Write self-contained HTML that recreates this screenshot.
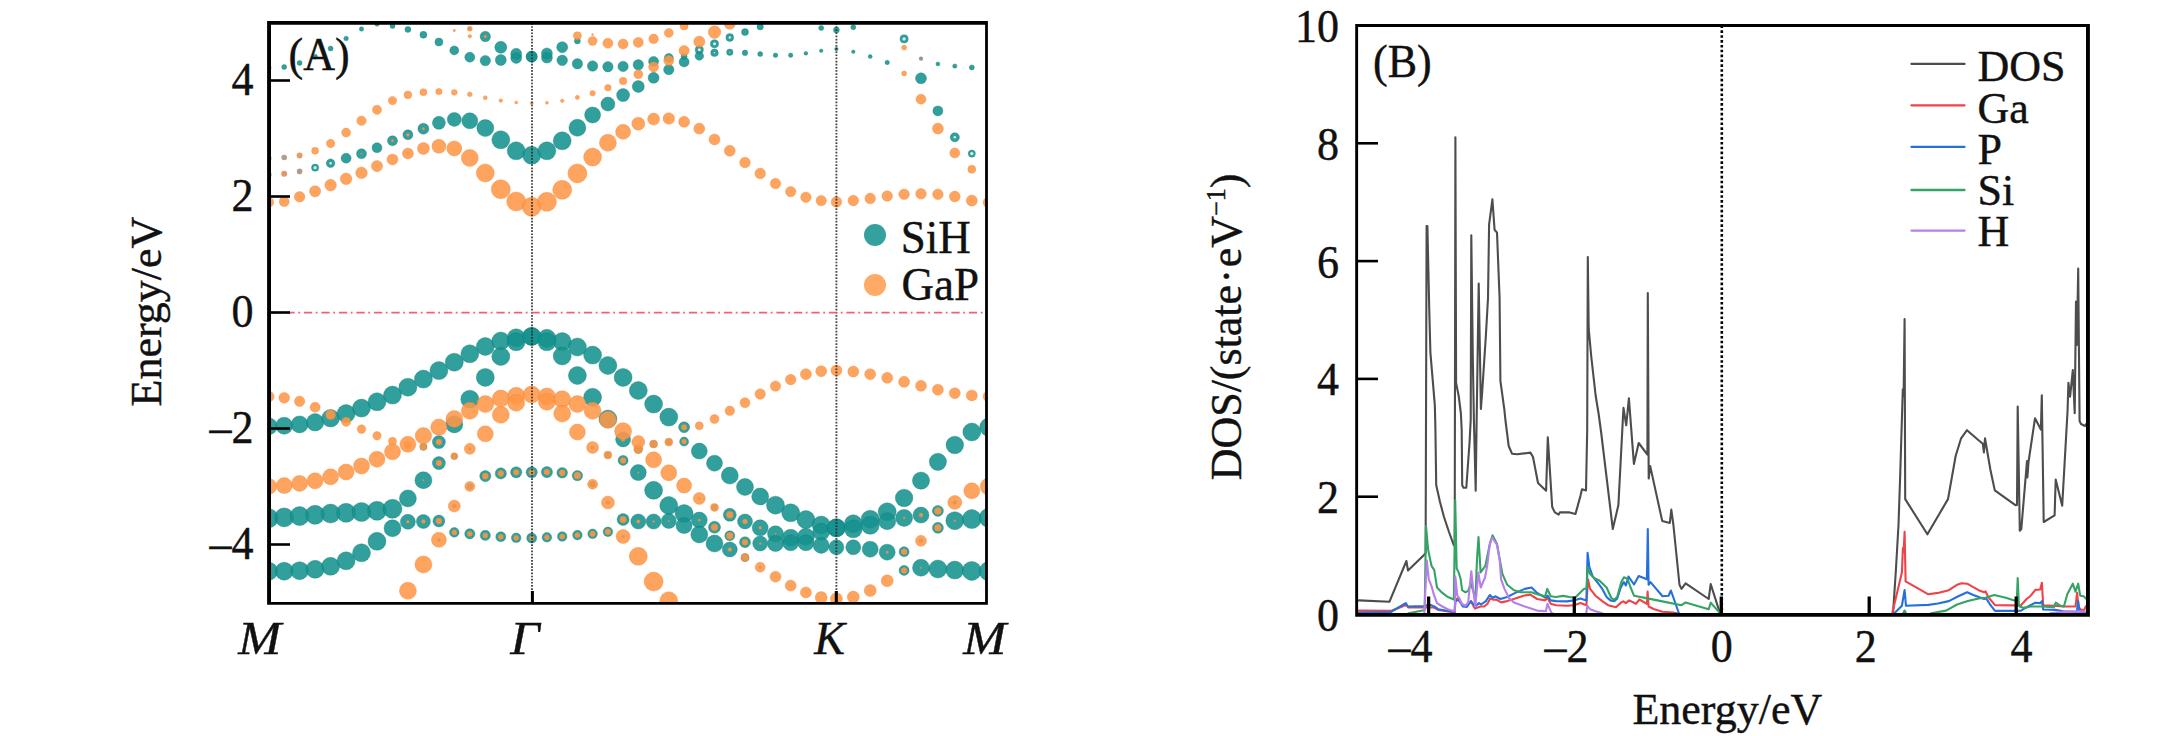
<!DOCTYPE html>
<html lang="en"><head><meta charset="utf-8"><title>Band structure and DOS</title>
<style>html,body{margin:0;padding:0;background:#fff}body{width:2182px;height:736px;overflow:hidden}svg{display:block}text{stroke:#111;stroke-width:.4px}</style></head>
<body>
<svg width="2182" height="736" viewBox="0 0 2182 736" font-family="'Liberation Serif', serif" fill="#111">
<rect x="0" y="0" width="2182" height="736" fill="#fff"/>
<defs><clipPath id="clipA"><rect x="269.0" y="23.0" width="718.0" height="580.0"/></clipPath>
<clipPath id="clipB"><rect x="1357" y="25.5" width="731" height="589"/></clipPath></defs>
<g clip-path="url(#clipA)">
<g fill="#15928e" fill-opacity="0.88" stroke="#0b7b78" stroke-opacity="0.4" stroke-width="0.9">
<circle cx="268.7" cy="426.3" r="8.5"/>
<circle cx="284.2" cy="425.8" r="8.5"/>
<circle cx="299.6" cy="424.4" r="8.5"/>
<circle cx="315.1" cy="422.3" r="8.7"/>
<circle cx="330.6" cy="418.2" r="8.8"/>
<circle cx="346.1" cy="413.6" r="9.0"/>
<circle cx="361.5" cy="408.1" r="9.0"/>
<circle cx="377.0" cy="401.8" r="9.0"/>
<circle cx="392.5" cy="395.1" r="9.0"/>
<circle cx="407.9" cy="387.2" r="9.0"/>
<circle cx="423.4" cy="379.1" r="9.0"/>
<circle cx="438.9" cy="370.6" r="9.0"/>
<circle cx="454.3" cy="362.2" r="9.0"/>
<circle cx="469.8" cy="353.8" r="9.0"/>
<circle cx="485.3" cy="346.5" r="9.0"/>
<circle cx="500.8" cy="341.0" r="9.0"/>
<circle cx="516.2" cy="337.8" r="9.0"/>
<circle cx="531.7" cy="336.4" r="9.0"/>
<circle cx="546.9" cy="338.3" r="9.0"/>
<circle cx="562.2" cy="341.6" r="9.0"/>
<circle cx="577.4" cy="347.0" r="9.0"/>
<circle cx="592.6" cy="355.1" r="9.0"/>
<circle cx="607.9" cy="365.5" r="9.0"/>
<circle cx="623.1" cy="377.4" r="9.0"/>
<circle cx="638.3" cy="390.5" r="9.0"/>
<circle cx="653.6" cy="404.1" r="9.0"/>
<circle cx="668.8" cy="417.1" r="9.0"/>
<circle cx="684.1" cy="427.2" r="5.5"/>
<circle cx="407.9" cy="444.8" r="1.5"/>
<circle cx="423.4" cy="446.8" r="3.5"/>
<circle cx="438.9" cy="442.1" r="6.5"/>
<circle cx="454.3" cy="424.4" r="8.5"/>
<circle cx="469.8" cy="399.2" r="9.0"/>
<circle cx="485.3" cy="377.4" r="9.0"/>
<circle cx="500.8" cy="356.5" r="9.0"/>
<circle cx="516.2" cy="341.8" r="9.0"/>
<circle cx="531.7" cy="336.4" r="9.0"/>
<circle cx="546.9" cy="341.8" r="9.0"/>
<circle cx="562.2" cy="356.0" r="9.0"/>
<circle cx="577.4" cy="375.5" r="9.0"/>
<circle cx="592.6" cy="397.3" r="9.0"/>
<circle cx="607.9" cy="419.0" r="9.0"/>
<circle cx="623.1" cy="439.4" r="7.5"/>
<circle cx="638.3" cy="449.2" r="4.0"/>
<circle cx="653.6" cy="444.0" r="3.5"/>
<circle cx="668.8" cy="442.1" r="3.0"/>
<circle cx="684.1" cy="441.6" r="4.5"/>
<circle cx="699.3" cy="451.1" r="8.0"/>
<circle cx="714.5" cy="463.2" r="8.0"/>
<circle cx="729.8" cy="475.6" r="8.5"/>
<circle cx="745.0" cy="487.0" r="8.5"/>
<circle cx="760.2" cy="496.5" r="8.5"/>
<circle cx="775.5" cy="505.2" r="9.0"/>
<circle cx="790.7" cy="512.8" r="9.0"/>
<circle cx="805.9" cy="519.6" r="9.0"/>
<circle cx="821.2" cy="525.0" r="9.0"/>
<circle cx="836.4" cy="527.8" r="9.0"/>
<circle cx="853.3" cy="523.8" r="9.0"/>
<circle cx="870.2" cy="519.2" r="9.0"/>
<circle cx="887.2" cy="511.8" r="9.0"/>
<circle cx="904.1" cy="498.0" r="8.8"/>
<circle cx="921.0" cy="480.6" r="8.6"/>
<circle cx="937.9" cy="461.8" r="8.6"/>
<circle cx="954.8" cy="445.0" r="8.8"/>
<circle cx="971.8" cy="432.0" r="9.0"/>
<circle cx="988.7" cy="427.1" r="9.0"/>
<circle cx="699.3" cy="498.4" r="1.0"/>
<circle cx="714.5" cy="507.4" r="3.0"/>
<circle cx="729.8" cy="514.8" r="6.5"/>
<circle cx="745.0" cy="521.5" r="7.5"/>
<circle cx="760.2" cy="527.8" r="8.0"/>
<circle cx="775.5" cy="533.8" r="8.0"/>
<circle cx="790.7" cy="537.8" r="8.5"/>
<circle cx="805.9" cy="536.8" r="8.5"/>
<circle cx="821.2" cy="531.8" r="8.5"/>
<circle cx="836.4" cy="527.8" r="9.0"/>
<circle cx="853.3" cy="528.8" r="9.0"/>
<circle cx="870.2" cy="525.3" r="9.0"/>
<circle cx="887.2" cy="521.2" r="8.5"/>
<circle cx="904.1" cy="517.9" r="8.5"/>
<circle cx="921.0" cy="515.1" r="8.0"/>
<circle cx="937.9" cy="510.9" r="5.5"/>
<circle cx="954.8" cy="502.4" r="2.0"/>
<circle cx="268.7" cy="518.2" r="9.5"/>
<circle cx="284.2" cy="517.4" r="9.5"/>
<circle cx="299.6" cy="516.1" r="9.5"/>
<circle cx="315.1" cy="514.8" r="9.5"/>
<circle cx="330.6" cy="513.6" r="9.5"/>
<circle cx="346.1" cy="512.8" r="9.5"/>
<circle cx="361.5" cy="512.0" r="9.5"/>
<circle cx="377.0" cy="510.8" r="9.5"/>
<circle cx="392.5" cy="508.8" r="9.5"/>
<circle cx="407.9" cy="498.4" r="8.5"/>
<circle cx="423.4" cy="480.2" r="8.5"/>
<circle cx="438.9" cy="463.1" r="6.5"/>
<circle cx="454.3" cy="456.2" r="3.0"/>
<circle cx="469.8" cy="448.8" r="1.5"/>
<circle cx="592.6" cy="447.5" r="1.5"/>
<circle cx="607.9" cy="455.1" r="3.0"/>
<circle cx="623.1" cy="460.4" r="5.0"/>
<circle cx="638.3" cy="472.6" r="8.0"/>
<circle cx="653.6" cy="490.3" r="9.0"/>
<circle cx="668.8" cy="505.5" r="9.0"/>
<circle cx="684.1" cy="513.6" r="9.0"/>
<circle cx="699.3" cy="520.1" r="8.0"/>
<circle cx="714.5" cy="527.2" r="6.0"/>
<circle cx="729.8" cy="535.8" r="5.0"/>
<circle cx="745.0" cy="542.2" r="5.5"/>
<circle cx="760.2" cy="543.5" r="7.5"/>
<circle cx="775.5" cy="543.5" r="8.0"/>
<circle cx="790.7" cy="542.8" r="8.0"/>
<circle cx="805.9" cy="542.8" r="8.0"/>
<circle cx="821.2" cy="545.4" r="8.0"/>
<circle cx="836.4" cy="547.3" r="7.5"/>
<circle cx="853.3" cy="547.3" r="7.5"/>
<circle cx="870.2" cy="549.2" r="8.0"/>
<circle cx="887.2" cy="552.2" r="8.0"/>
<circle cx="904.1" cy="551.7" r="5.0"/>
<circle cx="921.0" cy="540.8" r="2.0"/>
<circle cx="937.9" cy="527.8" r="5.5"/>
<circle cx="954.8" cy="520.7" r="9.0"/>
<circle cx="971.8" cy="519.1" r="9.5"/>
<circle cx="988.7" cy="517.8" r="9.5"/>
<circle cx="438.9" cy="539.8" r="1.5"/>
<circle cx="454.3" cy="506.0" r="2.0"/>
<circle cx="469.8" cy="486.4" r="3.0"/>
<circle cx="485.3" cy="476.1" r="5.6"/>
<circle cx="500.8" cy="473.4" r="5.6"/>
<circle cx="516.2" cy="472.3" r="5.6"/>
<circle cx="531.7" cy="472.3" r="5.6"/>
<circle cx="546.9" cy="472.1" r="5.6"/>
<circle cx="562.2" cy="472.8" r="5.3"/>
<circle cx="577.4" cy="475.6" r="5.2"/>
<circle cx="592.6" cy="484.3" r="3.0"/>
<circle cx="607.9" cy="502.5" r="2.0"/>
<circle cx="623.1" cy="536.5" r="1.5"/>
<circle cx="268.7" cy="571.2" r="9.0"/>
<circle cx="284.2" cy="571.2" r="9.0"/>
<circle cx="299.6" cy="570.7" r="9.0"/>
<circle cx="315.1" cy="569.3" r="9.0"/>
<circle cx="330.6" cy="566.3" r="9.0"/>
<circle cx="346.1" cy="560.8" r="9.0"/>
<circle cx="361.5" cy="552.8" r="9.0"/>
<circle cx="377.0" cy="541.3" r="9.0"/>
<circle cx="392.5" cy="528.3" r="8.5"/>
<circle cx="407.9" cy="521.8" r="7.5"/>
<circle cx="423.4" cy="521.5" r="7.0"/>
<circle cx="438.9" cy="521.0" r="6.0"/>
<circle cx="454.3" cy="532.4" r="4.8"/>
<circle cx="469.8" cy="533.8" r="5.1"/>
<circle cx="485.3" cy="535.4" r="5.1"/>
<circle cx="500.8" cy="536.8" r="5.0"/>
<circle cx="516.2" cy="537.8" r="4.8"/>
<circle cx="531.7" cy="538.1" r="5.0"/>
<circle cx="546.9" cy="537.3" r="4.8"/>
<circle cx="562.2" cy="536.5" r="4.8"/>
<circle cx="577.4" cy="535.1" r="4.8"/>
<circle cx="592.6" cy="533.8" r="4.8"/>
<circle cx="607.9" cy="531.8" r="4.8"/>
<circle cx="623.1" cy="519.6" r="6.0"/>
<circle cx="638.3" cy="521.5" r="7.5"/>
<circle cx="653.6" cy="521.5" r="7.5"/>
<circle cx="668.8" cy="521.0" r="7.5"/>
<circle cx="684.1" cy="525.6" r="8.0"/>
<circle cx="699.3" cy="534.5" r="8.5"/>
<circle cx="714.5" cy="543.5" r="8.5"/>
<circle cx="729.8" cy="549.5" r="7.5"/>
<circle cx="745.0" cy="557.6" r="4.0"/>
<circle cx="760.2" cy="567.2" r="1.5"/>
<circle cx="904.1" cy="570.4" r="5.0"/>
<circle cx="921.0" cy="567.7" r="8.5"/>
<circle cx="937.9" cy="569.0" r="9.0"/>
<circle cx="954.8" cy="570.1" r="9.0"/>
<circle cx="971.8" cy="570.9" r="9.5"/>
<circle cx="988.7" cy="571.2" r="9.5"/>
<circle cx="407.9" cy="153.4" r="1.0"/>
<circle cx="315.1" cy="167.7" r="3.6"/>
<circle cx="330.6" cy="163.2" r="4.3"/>
<circle cx="346.1" cy="158.2" r="5.0"/>
<circle cx="361.5" cy="153.8" r="5.0"/>
<circle cx="377.0" cy="147.8" r="5.0"/>
<circle cx="392.5" cy="140.8" r="5.0"/>
<circle cx="407.9" cy="134.8" r="5.0"/>
<circle cx="423.4" cy="128.7" r="5.5"/>
<circle cx="438.9" cy="122.8" r="6.5"/>
<circle cx="454.3" cy="119.4" r="7.0"/>
<circle cx="469.8" cy="120.8" r="8.0"/>
<circle cx="485.3" cy="128.1" r="8.5"/>
<circle cx="500.8" cy="139.8" r="9.0"/>
<circle cx="516.2" cy="150.8" r="9.0"/>
<circle cx="531.7" cy="155.3" r="9.0"/>
<circle cx="546.9" cy="150.8" r="9.0"/>
<circle cx="562.2" cy="140.8" r="9.0"/>
<circle cx="577.4" cy="127.8" r="8.5"/>
<circle cx="592.6" cy="115.0" r="8.0"/>
<circle cx="607.9" cy="104.1" r="7.0"/>
<circle cx="623.1" cy="95.1" r="6.5"/>
<circle cx="638.3" cy="86.5" r="6.0"/>
<circle cx="653.6" cy="77.8" r="5.5"/>
<circle cx="668.8" cy="69.6" r="5.2"/>
<circle cx="684.1" cy="62.0" r="5.0"/>
<circle cx="699.3" cy="49.8" r="4.1"/>
<circle cx="714.5" cy="43.8" r="4.1"/>
<circle cx="729.8" cy="37.5" r="3.9"/>
<circle cx="745.0" cy="32.1" r="3.5"/>
<circle cx="760.2" cy="26.7" r="3.2"/>
<circle cx="699.3" cy="56.0" r="4.3"/>
<circle cx="714.5" cy="52.8" r="3.8"/>
<circle cx="729.8" cy="52.2" r="3.2"/>
<circle cx="745.0" cy="52.8" r="2.8"/>
<circle cx="760.2" cy="54.1" r="2.5"/>
<circle cx="775.5" cy="55.3" r="2.3"/>
<circle cx="790.7" cy="55.2" r="2.2"/>
<circle cx="805.9" cy="53.3" r="1.9"/>
<circle cx="821.2" cy="50.8" r="1.8"/>
<circle cx="836.4" cy="49.0" r="1.8"/>
<circle cx="853.3" cy="51.7" r="1.8"/>
<circle cx="870.2" cy="56.6" r="2.0"/>
<circle cx="887.2" cy="62.5" r="2.2"/>
<circle cx="937.9" cy="63.9" r="2.0"/>
<circle cx="954.8" cy="66.1" r="2.2"/>
<circle cx="971.8" cy="67.4" r="2.5"/>
<circle cx="988.7" cy="67.2" r="2.5"/>
<circle cx="904.1" cy="38.9" r="4.1"/>
<circle cx="921.0" cy="78.3" r="5.5"/>
<circle cx="937.9" cy="110.9" r="5.0"/>
<circle cx="954.8" cy="137.3" r="4.6"/>
<circle cx="971.8" cy="153.6" r="3.6"/>
<circle cx="988.7" cy="157.8" r="3.0"/>
<circle cx="821.2" cy="28.0" r="2.5"/>
<circle cx="836.4" cy="29.9" r="3.0"/>
<circle cx="853.3" cy="27.2" r="2.5"/>
<circle cx="268.7" cy="67.8" r="2.5"/>
<circle cx="284.2" cy="67.0" r="2.5"/>
<circle cx="299.6" cy="62.9" r="2.5"/>
<circle cx="315.1" cy="56.7" r="2.5"/>
<circle cx="330.6" cy="48.5" r="2.5"/>
<circle cx="346.1" cy="38.5" r="2.3"/>
<circle cx="361.5" cy="29.0" r="2.2"/>
<circle cx="377.0" cy="24.1" r="2.2"/>
<circle cx="392.5" cy="26.0" r="2.5"/>
<circle cx="407.9" cy="29.4" r="3.0"/>
<circle cx="423.4" cy="34.8" r="3.5"/>
<circle cx="438.9" cy="42.0" r="4.0"/>
<circle cx="454.3" cy="50.4" r="4.5"/>
<circle cx="469.8" cy="57.2" r="5.0"/>
<circle cx="485.3" cy="60.6" r="5.2"/>
<circle cx="500.8" cy="60.0" r="5.5"/>
<circle cx="516.2" cy="57.9" r="5.5"/>
<circle cx="531.7" cy="56.6" r="5.5"/>
<circle cx="469.8" cy="28.7" r="1.5"/>
<circle cx="485.3" cy="36.5" r="5.2"/>
<circle cx="500.8" cy="47.3" r="6.0"/>
<circle cx="516.2" cy="53.8" r="5.5"/>
<circle cx="531.7" cy="56.6" r="5.5"/>
<circle cx="546.9" cy="57.6" r="5.5"/>
<circle cx="562.2" cy="60.3" r="5.3"/>
<circle cx="577.4" cy="63.8" r="5.2"/>
<circle cx="592.6" cy="66.0" r="5.2"/>
<circle cx="607.9" cy="66.7" r="5.2"/>
<circle cx="623.1" cy="66.4" r="5.2"/>
<circle cx="638.3" cy="64.8" r="5.2"/>
<circle cx="653.6" cy="61.5" r="5.0"/>
<circle cx="668.8" cy="57.9" r="4.5"/>
<circle cx="684.1" cy="56.3" r="3.0"/>
<circle cx="546.9" cy="53.4" r="5.5"/>
<circle cx="562.2" cy="47.2" r="5.5"/>
<circle cx="577.4" cy="41.0" r="3.0"/>
</g>
<g fill="#ff9746" fill-opacity="0.87" stroke="#ee8438" stroke-opacity="0.4" stroke-width="0.9">
<circle cx="684.1" cy="427.2" r="2.8"/>
<circle cx="699.3" cy="425.8" r="4.0"/>
<circle cx="714.5" cy="419.0" r="4.5"/>
<circle cx="729.8" cy="410.8" r="4.8"/>
<circle cx="745.0" cy="402.8" r="5.0"/>
<circle cx="760.2" cy="394.0" r="5.2"/>
<circle cx="775.5" cy="386.1" r="5.2"/>
<circle cx="790.7" cy="379.6" r="5.3"/>
<circle cx="805.9" cy="374.2" r="5.5"/>
<circle cx="821.2" cy="371.2" r="5.5"/>
<circle cx="836.4" cy="370.4" r="5.5"/>
<circle cx="853.3" cy="371.5" r="5.5"/>
<circle cx="870.2" cy="374.2" r="5.5"/>
<circle cx="887.2" cy="377.8" r="5.5"/>
<circle cx="904.1" cy="381.8" r="5.5"/>
<circle cx="921.0" cy="385.8" r="5.5"/>
<circle cx="937.9" cy="389.7" r="5.5"/>
<circle cx="954.8" cy="393.2" r="5.5"/>
<circle cx="971.8" cy="395.4" r="5.5"/>
<circle cx="988.7" cy="396.5" r="5.5"/>
<circle cx="268.7" cy="396.5" r="5.4"/>
<circle cx="284.2" cy="397.8" r="5.4"/>
<circle cx="299.6" cy="401.3" r="5.2"/>
<circle cx="315.1" cy="407.3" r="5.0"/>
<circle cx="330.6" cy="414.8" r="5.0"/>
<circle cx="346.1" cy="421.8" r="4.6"/>
<circle cx="361.5" cy="429.1" r="4.3"/>
<circle cx="377.0" cy="435.8" r="4.2"/>
<circle cx="392.5" cy="441.3" r="4.0"/>
<circle cx="407.9" cy="444.8" r="3.8"/>
<circle cx="423.4" cy="446.8" r="3.5"/>
<circle cx="438.9" cy="442.1" r="3.0"/>
<circle cx="454.3" cy="424.4" r="1.2"/>
<circle cx="623.1" cy="439.4" r="2.0"/>
<circle cx="638.3" cy="449.2" r="4.5"/>
<circle cx="653.6" cy="444.0" r="4.0"/>
<circle cx="668.8" cy="442.1" r="4.0"/>
<circle cx="684.1" cy="441.6" r="2.5"/>
<circle cx="268.7" cy="486.4" r="8.0"/>
<circle cx="284.2" cy="485.6" r="8.0"/>
<circle cx="299.6" cy="483.4" r="8.0"/>
<circle cx="315.1" cy="480.8" r="8.0"/>
<circle cx="330.6" cy="476.8" r="8.0"/>
<circle cx="346.1" cy="472.0" r="8.0"/>
<circle cx="361.5" cy="466.0" r="8.0"/>
<circle cx="377.0" cy="459.2" r="8.0"/>
<circle cx="392.5" cy="451.8" r="8.0"/>
<circle cx="407.9" cy="444.3" r="8.0"/>
<circle cx="423.4" cy="435.8" r="8.2"/>
<circle cx="438.9" cy="427.2" r="8.2"/>
<circle cx="454.3" cy="419.0" r="8.4"/>
<circle cx="469.8" cy="410.8" r="8.5"/>
<circle cx="485.3" cy="404.1" r="8.5"/>
<circle cx="500.8" cy="398.6" r="8.5"/>
<circle cx="516.2" cy="395.8" r="8.5"/>
<circle cx="531.7" cy="394.6" r="8.5"/>
<circle cx="546.9" cy="396.5" r="8.5"/>
<circle cx="562.2" cy="399.2" r="8.5"/>
<circle cx="577.4" cy="404.1" r="8.5"/>
<circle cx="592.6" cy="410.8" r="8.5"/>
<circle cx="607.9" cy="419.8" r="8.5"/>
<circle cx="623.1" cy="431.2" r="8.5"/>
<circle cx="638.3" cy="442.1" r="6.5"/>
<circle cx="653.6" cy="459.8" r="8.0"/>
<circle cx="668.8" cy="472.8" r="8.0"/>
<circle cx="684.1" cy="485.6" r="7.5"/>
<circle cx="699.3" cy="498.4" r="6.0"/>
<circle cx="714.5" cy="507.4" r="4.0"/>
<circle cx="729.8" cy="514.8" r="3.5"/>
<circle cx="745.0" cy="521.5" r="2.5"/>
<circle cx="760.2" cy="527.8" r="1.5"/>
<circle cx="775.5" cy="533.8" r="0.8"/>
<circle cx="904.1" cy="517.9" r="1.0"/>
<circle cx="921.0" cy="515.1" r="2.0"/>
<circle cx="937.9" cy="510.9" r="3.5"/>
<circle cx="954.8" cy="502.4" r="7.0"/>
<circle cx="971.8" cy="490.8" r="8.0"/>
<circle cx="988.7" cy="486.6" r="8.5"/>
<circle cx="423.4" cy="480.2" r="0.8"/>
<circle cx="438.9" cy="463.1" r="3.0"/>
<circle cx="454.3" cy="456.2" r="3.5"/>
<circle cx="469.8" cy="448.8" r="5.5"/>
<circle cx="485.3" cy="433.8" r="8.0"/>
<circle cx="500.8" cy="414.8" r="8.5"/>
<circle cx="516.2" cy="402.8" r="8.5"/>
<circle cx="546.9" cy="401.8" r="8.5"/>
<circle cx="562.2" cy="413.6" r="8.5"/>
<circle cx="577.4" cy="432.1" r="8.0"/>
<circle cx="592.6" cy="447.5" r="6.0"/>
<circle cx="607.9" cy="455.1" r="4.0"/>
<circle cx="623.1" cy="460.4" r="3.0"/>
<circle cx="638.3" cy="472.6" r="0.8"/>
<circle cx="699.3" cy="520.1" r="1.2"/>
<circle cx="714.5" cy="527.2" r="3.5"/>
<circle cx="729.8" cy="535.8" r="3.5"/>
<circle cx="745.0" cy="542.2" r="3.0"/>
<circle cx="760.2" cy="543.5" r="1.0"/>
<circle cx="887.2" cy="552.2" r="1.2"/>
<circle cx="904.1" cy="551.7" r="3.0"/>
<circle cx="921.0" cy="540.8" r="5.5"/>
<circle cx="937.9" cy="527.8" r="3.5"/>
<circle cx="954.8" cy="520.7" r="1.0"/>
<circle cx="407.9" cy="590.8" r="8.5"/>
<circle cx="423.4" cy="564.4" r="8.5"/>
<circle cx="438.9" cy="539.8" r="7.5"/>
<circle cx="454.3" cy="506.0" r="6.0"/>
<circle cx="469.8" cy="486.4" r="5.0"/>
<circle cx="485.3" cy="476.1" r="3.2"/>
<circle cx="500.8" cy="473.4" r="3.0"/>
<circle cx="516.2" cy="472.3" r="2.9"/>
<circle cx="531.7" cy="472.3" r="2.9"/>
<circle cx="546.9" cy="472.1" r="3.0"/>
<circle cx="562.2" cy="472.8" r="3.1"/>
<circle cx="577.4" cy="475.6" r="3.5"/>
<circle cx="592.6" cy="484.3" r="5.0"/>
<circle cx="607.9" cy="502.5" r="6.5"/>
<circle cx="623.1" cy="536.5" r="7.0"/>
<circle cx="638.3" cy="556.3" r="9.0"/>
<circle cx="653.6" cy="581.6" r="9.5"/>
<circle cx="668.8" cy="600.8" r="9.0"/>
<circle cx="407.9" cy="521.8" r="1.5"/>
<circle cx="423.4" cy="521.5" r="2.0"/>
<circle cx="438.9" cy="521.0" r="3.0"/>
<circle cx="454.3" cy="532.4" r="2.6"/>
<circle cx="469.8" cy="533.8" r="2.6"/>
<circle cx="485.3" cy="535.4" r="2.6"/>
<circle cx="500.8" cy="536.8" r="2.6"/>
<circle cx="516.2" cy="537.8" r="2.6"/>
<circle cx="531.7" cy="538.1" r="2.4"/>
<circle cx="546.9" cy="537.3" r="2.6"/>
<circle cx="562.2" cy="536.5" r="2.6"/>
<circle cx="577.4" cy="535.1" r="2.7"/>
<circle cx="592.6" cy="533.8" r="2.9"/>
<circle cx="607.9" cy="531.8" r="3.0"/>
<circle cx="623.1" cy="519.6" r="3.3"/>
<circle cx="638.3" cy="521.5" r="1.8"/>
<circle cx="653.6" cy="521.5" r="1.0"/>
<circle cx="668.8" cy="521.0" r="0.8"/>
<circle cx="729.8" cy="549.5" r="2.0"/>
<circle cx="745.0" cy="557.6" r="4.0"/>
<circle cx="760.2" cy="567.2" r="5.0"/>
<circle cx="775.5" cy="576.7" r="5.5"/>
<circle cx="790.7" cy="585.6" r="5.5"/>
<circle cx="805.9" cy="592.4" r="5.5"/>
<circle cx="821.2" cy="597.6" r="6.0"/>
<circle cx="836.4" cy="598.8" r="6.0"/>
<circle cx="853.3" cy="597.0" r="6.0"/>
<circle cx="870.2" cy="590.5" r="6.0"/>
<circle cx="887.2" cy="580.8" r="6.0"/>
<circle cx="904.1" cy="570.4" r="3.0"/>
<circle cx="921.0" cy="567.7" r="0.8"/>
<circle cx="268.7" cy="202.3" r="5.0"/>
<circle cx="284.2" cy="201.6" r="5.0"/>
<circle cx="299.6" cy="196.8" r="5.3"/>
<circle cx="315.1" cy="191.3" r="5.6"/>
<circle cx="330.6" cy="185.1" r="5.8"/>
<circle cx="346.1" cy="178.8" r="5.8"/>
<circle cx="361.5" cy="172.8" r="5.8"/>
<circle cx="377.0" cy="166.1" r="5.6"/>
<circle cx="392.5" cy="159.4" r="5.5"/>
<circle cx="407.9" cy="153.4" r="5.5"/>
<circle cx="423.4" cy="148.5" r="6.0"/>
<circle cx="438.9" cy="146.3" r="7.0"/>
<circle cx="454.3" cy="148.5" r="7.5"/>
<circle cx="469.8" cy="158.0" r="8.5"/>
<circle cx="485.3" cy="173.0" r="9.0"/>
<circle cx="500.8" cy="189.3" r="9.5"/>
<circle cx="516.2" cy="201.5" r="9.5"/>
<circle cx="531.7" cy="206.8" r="9.5"/>
<circle cx="546.9" cy="201.8" r="9.5"/>
<circle cx="562.2" cy="189.8" r="9.5"/>
<circle cx="577.4" cy="173.4" r="9.5"/>
<circle cx="592.6" cy="157.1" r="9.0"/>
<circle cx="607.9" cy="142.8" r="8.5"/>
<circle cx="623.1" cy="131.8" r="7.5"/>
<circle cx="638.3" cy="123.7" r="6.5"/>
<circle cx="653.6" cy="119.1" r="6.0"/>
<circle cx="668.8" cy="118.5" r="5.8"/>
<circle cx="684.1" cy="121.8" r="5.5"/>
<circle cx="699.3" cy="128.6" r="5.5"/>
<circle cx="714.5" cy="139.4" r="5.5"/>
<circle cx="729.8" cy="150.8" r="5.5"/>
<circle cx="745.0" cy="162.5" r="5.3"/>
<circle cx="760.2" cy="173.4" r="5.3"/>
<circle cx="775.5" cy="183.5" r="5.2"/>
<circle cx="790.7" cy="191.6" r="5.2"/>
<circle cx="805.9" cy="197.2" r="5.2"/>
<circle cx="821.2" cy="200.6" r="5.2"/>
<circle cx="836.4" cy="201.9" r="5.3"/>
<circle cx="853.3" cy="200.6" r="5.3"/>
<circle cx="870.2" cy="198.4" r="5.3"/>
<circle cx="887.2" cy="196.0" r="5.3"/>
<circle cx="904.1" cy="194.3" r="5.3"/>
<circle cx="921.0" cy="193.8" r="5.3"/>
<circle cx="937.9" cy="194.3" r="5.3"/>
<circle cx="954.8" cy="196.5" r="5.4"/>
<circle cx="971.8" cy="200.6" r="5.5"/>
<circle cx="988.7" cy="202.5" r="5.5"/>
<circle cx="361.5" cy="153.8" r="0.7"/>
<circle cx="392.5" cy="140.8" r="1.3"/>
<circle cx="407.9" cy="134.8" r="1.6"/>
<circle cx="423.4" cy="128.7" r="1.3"/>
<circle cx="904.1" cy="73.4" r="2.5"/>
<circle cx="904.1" cy="47.6" r="2.5"/>
<circle cx="988.7" cy="157.8" r="2.0"/>
<circle cx="921.0" cy="99.2" r="5.0"/>
<circle cx="937.9" cy="128.6" r="5.5"/>
<circle cx="954.8" cy="153.0" r="5.0"/>
<circle cx="971.8" cy="169.3" r="4.0"/>
<circle cx="988.7" cy="174.8" r="3.0"/>
<circle cx="315.1" cy="150.8" r="3.5"/>
<circle cx="330.6" cy="143.5" r="4.2"/>
<circle cx="346.1" cy="132.6" r="4.5"/>
<circle cx="361.5" cy="120.8" r="4.7"/>
<circle cx="377.0" cy="109.8" r="4.6"/>
<circle cx="392.5" cy="100.6" r="4.2"/>
<circle cx="407.9" cy="94.8" r="3.9"/>
<circle cx="423.4" cy="92.2" r="3.5"/>
<circle cx="438.9" cy="91.6" r="3.2"/>
<circle cx="454.3" cy="92.3" r="2.9"/>
<circle cx="469.8" cy="94.3" r="2.4"/>
<circle cx="485.3" cy="97.7" r="2.0"/>
<circle cx="500.8" cy="100.6" r="1.8"/>
<circle cx="516.2" cy="102.4" r="1.5"/>
<circle cx="531.7" cy="103.3" r="1.5"/>
<circle cx="546.9" cy="102.8" r="1.5"/>
<circle cx="562.2" cy="100.8" r="1.8"/>
<circle cx="577.4" cy="97.4" r="2.1"/>
<circle cx="592.6" cy="93.2" r="2.7"/>
<circle cx="607.9" cy="87.8" r="3.3"/>
<circle cx="623.1" cy="81.0" r="3.8"/>
<circle cx="638.3" cy="74.2" r="4.5"/>
<circle cx="653.6" cy="66.9" r="5.0"/>
<circle cx="668.8" cy="60.6" r="5.0"/>
<circle cx="684.1" cy="50.6" r="5.2"/>
<circle cx="699.3" cy="41.6" r="5.6"/>
<circle cx="714.5" cy="32.1" r="6.3"/>
<circle cx="729.8" cy="23.8" r="5.5"/>
<circle cx="469.8" cy="28.7" r="2.5"/>
<circle cx="485.3" cy="36.5" r="1.5"/>
<circle cx="469.8" cy="36.2" r="1.8"/>
<circle cx="454.3" cy="30.5" r="1.2"/>
<circle cx="577.4" cy="35.7" r="4.0"/>
<circle cx="592.6" cy="41.0" r="4.5"/>
<circle cx="607.9" cy="43.3" r="5.0"/>
<circle cx="623.1" cy="44.0" r="5.0"/>
<circle cx="638.3" cy="42.4" r="5.0"/>
<circle cx="653.6" cy="38.9" r="4.8"/>
<circle cx="668.8" cy="32.9" r="4.5"/>
<circle cx="684.1" cy="26.1" r="4.0"/>
<circle cx="592.6" cy="34.6" r="1.0"/>
</g>
<g fill="#f2fbfa" fill-opacity="0.85">
<circle cx="315.1" cy="167.7" r="1.6"/>
<circle cx="330.6" cy="163.2" r="1.2"/>
<circle cx="699.3" cy="49.8" r="1.5"/>
<circle cx="714.5" cy="43.8" r="1.5"/>
<circle cx="729.8" cy="37.5" r="1.2"/>
<circle cx="714.5" cy="52.8" r="0.7"/>
<circle cx="729.8" cy="52.2" r="0.5"/>
<circle cx="904.1" cy="38.9" r="1.7"/>
<circle cx="954.8" cy="137.3" r="1.3"/>
<circle cx="971.8" cy="153.6" r="1.7"/>
</g>
<circle cx="268.7" cy="158.3" r="2.8" fill="#a39a82" fill-opacity="0.92"/>
<circle cx="268.7" cy="174.8" r="3.0" fill="#e0915a" fill-opacity="0.92"/>
<circle cx="284.2" cy="157.5" r="2.8" fill="#a39a82" fill-opacity="0.92"/>
<circle cx="284.2" cy="173.8" r="3.0" fill="#de8f5a" fill-opacity="0.92"/>
<circle cx="299.6" cy="155.4" r="3.0" fill="#e29660" fill-opacity="0.92"/>
<circle cx="299.6" cy="171.4" r="2.8" fill="#a89679" fill-opacity="0.92"/>
<circle cx="921.0" cy="58.7" r="2.1" fill="#8e8a84" fill-opacity="0.92"/>
</g>
<line x1="532.0" y1="23.0" x2="532.0" y2="603.0" stroke="#222" stroke-width="1.9" stroke-dasharray="1.7 1.44" opacity="0.82"/>
<line x1="836.4" y1="23.0" x2="836.4" y2="603.0" stroke="#222" stroke-width="1.9" stroke-dasharray="1.7 1.44" opacity="0.82"/>
<line x1="268.9" y1="312.6" x2="987.0" y2="312.6" stroke="#ee4f6c" stroke-width="1.9" stroke-dasharray="8.3 3.55 1.8 3.85" opacity="0.9"/>
<path d="M267.1 21.1H987.9V604.7H267.1Z M271 24.8V602H985.1V24.8Z" fill="#000" fill-rule="evenodd"/>
<line x1="269.0" y1="80.5" x2="290.0" y2="80.5" stroke="#000" stroke-width="2.6"/>
<text transform="translate(253.6 94.9) scale(1.0 1.06)" font-size="44" text-anchor="end">4</text>
<line x1="269.0" y1="196.5" x2="290.0" y2="196.5" stroke="#000" stroke-width="2.6"/>
<text transform="translate(253.6 210.9) scale(1.0 1.06)" font-size="44" text-anchor="end">2</text>
<line x1="269.0" y1="312.5" x2="290.0" y2="312.5" stroke="#000" stroke-width="2.6"/>
<text transform="translate(253.6 326.9) scale(1.0 1.06)" font-size="44" text-anchor="end">0</text>
<line x1="269.0" y1="428.5" x2="290.0" y2="428.5" stroke="#000" stroke-width="2.6"/>
<text transform="translate(253.6 442.9) scale(1.0 1.06)" font-size="44" text-anchor="end">–2</text>
<line x1="269.0" y1="544.5" x2="290.0" y2="544.5" stroke="#000" stroke-width="2.6"/>
<text transform="translate(253.6 558.9) scale(1.0 1.06)" font-size="44" text-anchor="end">–4</text>
<line x1="532.4" y1="603.0" x2="532.4" y2="591.0" stroke="#000" stroke-width="3"/>
<line x1="836.3" y1="603.0" x2="836.3" y2="591.0" stroke="#000" stroke-width="3"/>
<text transform="translate(259.6 654) scale(1.12 1.0)" font-size="46" text-anchor="middle" font-style="italic">M</text>
<text transform="translate(524.8 654) scale(1.12 1.0)" font-size="46" text-anchor="middle" font-style="italic">Γ</text>
<text transform="translate(829.6 654) scale(1.0 1.0)" font-size="46" text-anchor="middle" font-style="italic">K</text>
<text transform="translate(984.6 654) scale(1.12 1.0)" font-size="46" text-anchor="middle" font-style="italic">M</text>
<text transform="translate(161 311.5) rotate(-90) scale(1 1.03)" font-size="44" text-anchor="middle">Energy/eV</text>
<text transform="translate(288.5 70) scale(1.0 1.04)" font-size="44" text-anchor="start">(A)</text>
<circle cx="875" cy="235" r="11" fill="#2a9c98" opacity="0.95"/>
<circle cx="875" cy="285" r="11" fill="#ffa55e" opacity="0.95"/>
<text transform="translate(900.8 253.3) scale(1.0 1.035)" font-size="45" text-anchor="start">SiH</text>
<text transform="translate(901.5 299.5) scale(1.0 1.035)" font-size="45" text-anchor="start">GaP</text>
<g clip-path="url(#clipB)" fill="none" stroke-linejoin="round" stroke-linecap="round">
<polyline points="1358.8,600.4 1389.4,601.8 1406.4,561.0 1408.0,570.5 1424.0,554.9 1425.6,553.0 1426.6,226.0 1427.4,226.0 1429.3,311.3 1430.4,352.6 1432.6,378.7 1434.8,404.8 1435.4,428.0 1436.2,485.0 1440.0,502.0 1444.0,517.0 1449.0,532.0 1453.7,545.0 1454.7,546.0 1455.4,137.4 1456.1,383.0 1458.7,396.0 1460.9,413.5 1461.7,430.0 1462.2,485.2 1463.5,487.8 1466.3,487.8 1469.6,441.7 1470.7,420.0 1471.3,235.2 1472.8,357.0 1473.9,420.0 1475.7,490.7 1476.5,430.0 1478.7,283.5 1480.9,409.0 1482.2,391.7 1485.9,335.2 1488.0,298.3 1489.1,224.3 1492.4,199.3 1494.6,229.8 1497.0,232.6 1499.6,298.3 1500.4,380.9 1504.3,409.1 1505.4,420.0 1508.7,446.0 1512.0,453.7 1517.4,454.3 1530.4,452.6 1533.0,457.0 1538.0,483.0 1546.1,490.7 1547.8,437.4 1552.2,507.0 1554.8,512.4 1558.7,514.6 1559.8,512.4 1569.6,512.4 1575.5,513.9 1580.4,496.1 1582.0,489.2 1586.0,490.5 1587.2,430.0 1587.8,257.0 1588.7,328.7 1591.3,357.0 1595.7,396.0 1598.5,413.0 1601.1,432.0 1612.8,529.0 1618.4,505.0 1623.0,416.5 1623.5,407.8 1626.2,425.3 1628.9,398.3 1633.9,463.9 1638.7,443.0 1647.4,454.6 1647.8,293.0 1648.7,478.5 1650.2,466.1 1662.2,520.9 1669.8,523.0 1671.3,509.6 1673.4,525.0 1679.5,584.8 1681.5,588.9 1685.6,583.4 1708.7,599.0 1710.7,584.1 1719.6,612.0 1721.0,614.5" stroke="#4d4d4d" stroke-width="2.1"/>
<polyline points="1893.1,612.6 1895.9,570.0 1898.5,525.0 1900.2,475.2 1902.8,389.3 1903.6,396.0 1904.6,319.1 1905.2,499.1 1927.4,534.3 1948.0,499.1 1955.7,455.7 1961.1,438.3 1967.0,430.2 1977.4,439.3 1982.8,443.7 1983.9,452.4 1985.0,438.3 1990.4,469.8 1994.8,490.4 2015.4,505.2 2017.0,505.0 2017.7,406.5 2019.8,530.7 2021.3,529.0 2027.0,461.1 2027.4,477.4 2028.5,462.0 2035.0,418.3 2040.9,429.6 2041.8,395.3 2043.7,522.0 2054.6,515.4 2055.7,479.6 2062.2,505.7 2067.6,410.0 2068.4,382.7 2070.1,396.7 2072.8,370.0 2074.7,413.2 2076.0,301.5 2076.9,345.0 2078.2,268.6 2079.4,400.0 2079.6,420.9 2081.0,424.0 2085.0,426.0 2088.0,421.0" stroke="#4d4d4d" stroke-width="2.1"/>
<polyline points="1358.8,610.6 1391.0,610.9 1406.0,605.0 1408.5,607.5 1424.0,607.2 1434.0,607.5 1438.5,610.0 1454.6,612.5 1455.3,599.0 1458.7,598.4 1462.8,605.2 1466.8,605.8 1471.0,601.5 1475.0,608.6 1480.4,606.5 1484.1,606.5 1487.5,603.8 1490.2,598.4 1493.6,599.7 1496.3,599.5 1501.1,602.4 1507.2,601.1 1515.3,598.4 1523.5,595.7 1530.3,594.6 1537.1,599.0 1545.2,600.4 1547.5,597.7 1550.7,603.8 1556.1,605.2 1567.0,605.8 1573.8,605.2 1580.5,603.1 1586.4,605.2 1588.0,579.3 1590.1,588.9 1595.5,595.7 1602.3,601.1 1608.0,605.2 1616.0,607.2 1621.3,602.4 1623.3,601.3 1625.8,603.1 1629.2,600.4 1636.0,603.8 1639.4,599.5 1646.9,603.8 1647.6,591.6 1648.6,606.5 1654.3,609.2 1662.5,611.7 1673.4,612.6 1680.0,614.0" stroke="#ee4348" stroke-width="2.1"/>
<polyline points="1892.4,612.6 1901.9,572.6 1902.9,548.1 1903.6,552.0 1904.6,531.8 1905.6,581.4 1928.4,594.3 1937.9,592.9 1948.8,590.2 1957.0,584.8 1961.7,583.2 1967.1,583.7 1978.7,590.2 1984.1,592.3 1985.5,591.3 1988.2,597.0 1995.0,605.2 2016.0,605.4 2020.5,605.8 2026.6,599.0 2030.7,595.7 2035.4,589.9 2040.2,589.5 2041.9,582.7 2043.2,605.2 2053.8,605.8 2063.3,606.5 2075.5,606.5 2077.1,592.9 2078.5,607.0 2080.9,609.9 2084.3,609.9 2085.7,606.5 2088.0,605.0" stroke="#ee4348" stroke-width="2.1"/>
<polyline points="1358.8,612.6 1390.8,612.0 1405.7,603.1 1408.0,606.5 1424.0,606.1 1429.5,604.5 1434.2,606.5 1438.3,609.2 1454.6,612.0 1455.5,601.0 1458.7,600.0 1462.8,606.5 1466.8,607.0 1471.0,601.0 1475.0,606.5 1479.0,603.1 1481.0,604.5 1485.9,601.1 1489.8,595.0 1492.9,597.7 1495.6,596.3 1500.4,599.0 1507.2,597.0 1515.3,592.9 1524.8,588.9 1531.6,587.5 1537.1,592.9 1545.2,597.7 1547.5,595.7 1550.7,600.4 1556.1,601.1 1567.0,601.4 1573.8,600.4 1580.5,598.4 1583.3,599.5 1586.4,600.4 1587.6,552.9 1589.4,567.1 1592.8,576.6 1598.2,583.4 1602.3,588.9 1606.6,597.0 1610.4,600.4 1614.5,601.1 1617.2,598.4 1620.8,587.5 1623.9,582.1 1625.9,585.5 1628.5,576.6 1634.0,584.5 1638.7,576.0 1646.9,579.3 1647.8,529.1 1648.6,584.8 1650.5,582.1 1662.5,596.3 1668.6,595.7 1670.9,590.5 1678.8,613.0 1680.0,614.0" stroke="#2670dc" stroke-width="2.1"/>
<polyline points="1895.1,612.6 1901.9,605.8 1904.6,590.0 1906.0,605.8 1928.4,604.9 1937.9,603.5 1948.8,601.1 1958.3,596.3 1967.1,592.3 1973.3,595.0 1984.1,599.0 1986.2,598.4 1989.6,603.8 1995.0,610.9 2016.0,610.9 2021.1,610.6 2026.6,607.2 2035.4,602.7 2040.2,603.1 2041.9,601.1 2043.2,609.5 2055.1,609.9 2063.3,611.3 2076.8,612.0 2078.2,601.1 2079.6,612.0 2088.0,612.0" stroke="#2670dc" stroke-width="2.1"/>
<polyline points="1408.4,613.3 1424.0,610.3 1424.7,610.0 1426.0,526.0 1428.1,549.5 1431.5,565.8 1434.2,569.8 1437.0,587.5 1442.4,592.9 1447.8,597.0 1453.9,599.5 1455.2,500.0 1456.7,568.5 1458.7,572.6 1460.7,579.3 1462.1,590.2 1465.5,592.3 1468.2,590.9 1470.9,583.4 1473.5,592.0 1475.5,598.0 1477.0,559.0 1478.5,537.0 1480.6,572.4 1485.4,565.8 1489.5,545.4 1492.5,535.2 1497.0,544.0 1500.4,563.0 1502.4,573.9 1507.2,584.8 1514.0,590.2 1520.8,592.3 1531.6,592.3 1537.1,594.3 1545.2,596.3 1547.3,588.9 1550.7,596.3 1556.1,597.0 1562.9,595.9 1569.7,597.0 1575.1,597.7 1580.5,592.3 1583.9,589.1 1586.7,588.2 1587.6,567.1 1590.1,573.9 1594.1,578.0 1599.6,580.7 1606.6,587.5 1611.3,598.0 1613.8,599.7 1617.2,597.0 1621.3,582.1 1624.0,577.3 1627.6,579.0 1630.6,587.5 1634.0,595.7 1647.6,598.4 1661.1,601.1 1681.5,605.2 1685.6,602.4 1708.7,609.2 1710.7,602.7 1719.6,612.6 1721.0,614.0" stroke="#33a463" stroke-width="2.1"/>
<polyline points="1903.0,613.5 1904.6,610.5 1906.0,613.5" stroke="#33a463" stroke-width="2.1"/>
<polyline points="1931.1,613.3 1946.1,610.6 1957.0,604.5 1967.8,601.1 1978.7,598.4 1985.5,597.7 1994.2,595.0 2005.9,597.7 2014.3,600.4 2016.8,600.4 2017.7,578.0 2018.8,604.0 2019.8,606.5 2023.9,607.9 2030.7,606.5 2041.5,606.5 2053.8,607.2 2055.8,602.7 2060.5,605.8 2063.9,606.5 2067.3,594.3 2072.8,583.7 2075.5,591.6 2078.2,583.7 2080.2,595.7 2083.6,596.3 2086.4,599.0 2088.0,600.0" stroke="#33a463" stroke-width="2.1"/>
<polyline points="1424.3,613.0 1426.8,560.3 1428.8,579.3 1431.5,586.1 1434.2,595.7 1437.0,603.1 1442.4,606.5 1447.8,609.2 1453.9,611.3 1454.8,611.0 1455.3,576.6 1457.3,595.7 1459.4,598.4 1461.4,603.8 1465.5,605.8 1468.2,602.4 1471.3,571.2 1473.6,592.9 1475.3,606.5 1478.4,572.6 1480.7,587.5 1485.0,577.5 1487.2,565.8 1488.8,552.2 1490.0,542.7 1492.3,537.5 1497.0,545.0 1499.7,560.3 1501.1,579.3 1504.5,588.9 1509.2,598.4 1514.0,602.4 1524.8,606.5 1537.1,610.6 1545.9,611.3 1547.5,603.8 1551.3,612.6 1553.0,613.6" stroke="#b87fe8" stroke-width="2.1"/>
<polyline points="1586.2,613.6 1587.3,605.8 1590.1,609.2 1595.5,611.3 1602.3,613.2" stroke="#b87fe8" stroke-width="2.1"/>
<polyline points="2050.0,613.4 2066.0,611.6 2080.0,611.4 2088.0,612.0" stroke="#b87fe8" stroke-width="2.1"/>
</g>
<line x1="1721.8" y1="25.5" x2="1721.8" y2="614.5" stroke="#000" stroke-width="2.6" stroke-dasharray="2.6 2.25"/>
<path d="M1355.2 23.9H2089.9V616.7H1355.2Z M1358.1 27V613H2086V27Z" fill="#000" fill-rule="evenodd"/>
<line x1="1357.0" y1="496.7" x2="1378.0" y2="496.7" stroke="#000" stroke-width="2.6"/>
<line x1="1357.0" y1="378.9" x2="1378.0" y2="378.9" stroke="#000" stroke-width="2.6"/>
<line x1="1357.0" y1="261.1" x2="1378.0" y2="261.1" stroke="#000" stroke-width="2.6"/>
<line x1="1357.0" y1="143.3" x2="1378.0" y2="143.3" stroke="#000" stroke-width="2.6"/>
<text transform="translate(1339 630.9) scale(1.0 1.06)" font-size="44" text-anchor="end">0</text>
<text transform="translate(1339 513.1) scale(1.0 1.06)" font-size="44" text-anchor="end">2</text>
<text transform="translate(1339 395.29999999999995) scale(1.0 1.06)" font-size="44" text-anchor="end">4</text>
<text transform="translate(1339 277.5) scale(1.0 1.06)" font-size="44" text-anchor="end">6</text>
<text transform="translate(1339 159.70000000000002) scale(1.0 1.06)" font-size="44" text-anchor="end">8</text>
<text transform="translate(1339 41.9) scale(1.0 1.06)" font-size="44" text-anchor="end">10</text>
<line x1="1428.6" y1="614.5" x2="1428.6" y2="596.5" stroke="#000" stroke-width="3.3"/>
<line x1="1574.3" y1="614.5" x2="1574.3" y2="596.5" stroke="#000" stroke-width="3.3"/>
<line x1="1721.3" y1="614.5" x2="1721.3" y2="596.5" stroke="#000" stroke-width="3.3"/>
<line x1="1869.2" y1="614.5" x2="1869.2" y2="596.5" stroke="#000" stroke-width="3.3"/>
<line x1="2016.2" y1="614.5" x2="2016.2" y2="596.5" stroke="#000" stroke-width="3.3"/>
<text transform="translate(1410.4 662.2) scale(1.0 1.06)" font-size="44" text-anchor="middle">–4</text>
<text transform="translate(1566.6 662.2) scale(1.0 1.06)" font-size="44" text-anchor="middle">–2</text>
<text transform="translate(1721.8 662.2) scale(1.0 1.06)" font-size="44" text-anchor="middle">0</text>
<text transform="translate(1865.7 662.2) scale(1.0 1.06)" font-size="44" text-anchor="middle">2</text>
<text transform="translate(2021.6 662.2) scale(1.0 1.06)" font-size="44" text-anchor="middle">4</text>
<text transform="translate(1727.3 724.4) scale(1.0 1.03)" font-size="44" text-anchor="middle">Energy/eV</text>
<text transform="translate(1240.5 327) rotate(-90) scale(1 1.03)" font-size="44" text-anchor="middle">DOS/(state<tspan dx="1.5">·</tspan><tspan dx="1.5">eV</tspan><tspan font-size="26" dy="-15">−1</tspan><tspan dy="15">)</tspan></text>
<text transform="translate(1373 76.5) scale(1.0 1.04)" font-size="44" text-anchor="start">(B)</text>
<line x1="1911.5" y1="63.9" x2="1964.5" y2="63.9" stroke="#4d4d4d" stroke-width="2.3" stroke-linecap="round"/>
<text transform="translate(1977.5 80.6) scale(1.0 1.03)" font-size="44" text-anchor="start">DOS</text>
<line x1="1911.5" y1="105.4" x2="1964.5" y2="105.4" stroke="#ee4348" stroke-width="2.3" stroke-linecap="round"/>
<text transform="translate(1977.5 122.6) scale(1.0 1.03)" font-size="44" text-anchor="start">Ga</text>
<line x1="1911.5" y1="146.9" x2="1964.5" y2="146.9" stroke="#2670dc" stroke-width="2.3" stroke-linecap="round"/>
<text transform="translate(1977.5 163.6) scale(1.0 1.03)" font-size="44" text-anchor="start">P</text>
<line x1="1911.5" y1="190.0" x2="1964.5" y2="190.0" stroke="#33a463" stroke-width="2.3" stroke-linecap="round"/>
<text transform="translate(1977.5 205) scale(1.0 1.03)" font-size="44" text-anchor="start">Si</text>
<line x1="1911.5" y1="230.6" x2="1964.5" y2="230.6" stroke="#b87fe8" stroke-width="2.3" stroke-linecap="round"/>
<text transform="translate(1977.5 246.3) scale(1.0 1.03)" font-size="44" text-anchor="start">H</text>
</svg>
</body></html>
